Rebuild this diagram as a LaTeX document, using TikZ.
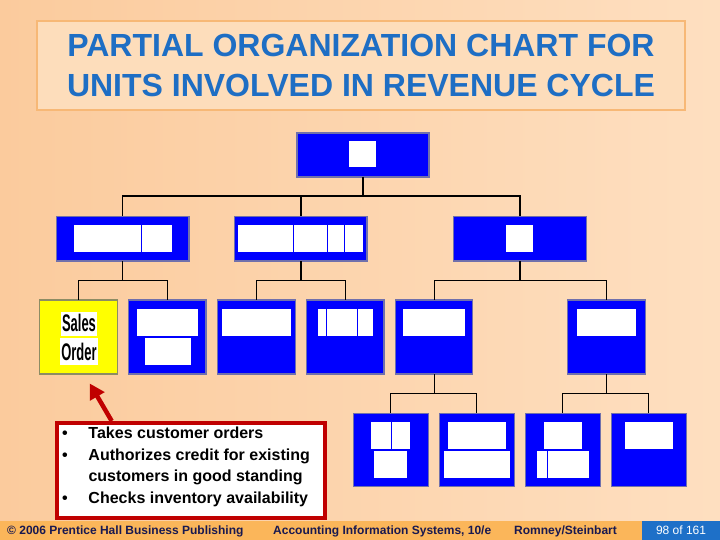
\documentclass[tikz,border=0pt]{standalone}
\usepackage{fontspec}
\setmainfont{Liberation Sans}
\usepackage{xcolor}
\usetikzlibrary{arrows.meta}

\definecolor{bgL}{RGB}{251,203,157}
\definecolor{bgR}{RGB}{254,223,192}
\definecolor{ttlfill}{RGB}{253,221,187}
\definecolor{ttledge}{RGB}{247,184,118}
\definecolor{ttlblue}{RGB}{30,110,196}
\definecolor{unitblue}{RGB}{0,0,255}
\definecolor{unitedge}{RGB}{112,112,172}
\definecolor{selyellow}{RGB}{255,255,0}
\definecolor{seledge}{RGB}{140,140,100}
\definecolor{notered}{RGB}{192,0,0}
\definecolor{barorange}{RGB}{251,182,90}
\definecolor{barblue}{RGB}{30,112,200}
\definecolor{bartext}{RGB}{25,25,80}

\begin{document}
\begin{tikzpicture}[x=1pt,y=-1pt,%
% common options for the blue units:
unit/.style = {draw=unitedge, fill=unitblue, line width=1.2pt, anchor=north west,
            inner sep=0, outer sep=0},
% common options for the white patches:
patch/.style = {fill=white, anchor=north west, inner sep=0, outer sep=0},
% words on the yellow unit:
word/.style = {fill=white, anchor=base, inner xsep=1.8pt, inner ysep=0, xscale=0.54,
            font=\fontsize{24}{24}\selectfont\bfseries},
% connectors:
wire/.style = {line width=1.3pt, black},
% footer texts:
foot/.style = {anchor=base west, inner sep=0, text=bartext,
            font=\fontsize{12}{14}\selectfont\bfseries}]
\useasboundingbox (0,0) rectangle (720,540);
\shade[left color=bgL, right color=bgR] (0,0) rectangle (720,540);
% title
\node[draw=ttledge, fill=ttlfill, line width=2.5pt, minimum width=648pt, minimum height=89pt,
      align=center, text=ttlblue, font=\fontsize{32}{40}\selectfont\bfseries] (title) at (361,65.5)
      {PARTIAL ORGANIZATION CHART FOR\\UNITS INVOLVED IN REVENUE CYCLE};
% top level
\node[unit, minimum width=132pt, minimum height=44pt] (T0) at (297,133) {};
\node[patch, minimum width=27pt, minimum height=26pt] (T0a) at (349,141) {};
% second level
\node[unit, minimum width=132.5pt, minimum height=44.5pt] (U1) at (56.5,216.5) {};
\node[unit, minimum width=132.3pt, minimum height=44.5pt] (U2) at (234.7,216.5) {};
\node[unit, minimum width=133.3pt, minimum height=44.5pt] (U3) at (453.3,216.5) {};
\node[patch, minimum width=67.2pt, minimum height=26.7pt] (U1a) at (74,225) {};
\node[patch, minimum width=29.8pt, minimum height=26.7pt] (U1b) at (142.2,225) {};
\node[patch, minimum width=54.7pt, minimum height=26.7pt] (U2a) at (238,225) {};
\node[patch, minimum width=33pt, minimum height=26.7pt] (U2b) at (293.7,225) {};
\node[patch, minimum width=16.6pt, minimum height=26.7pt] (U2c) at (327.7,225) {};
\node[patch, minimum width=17.5pt, minimum height=26.7pt] (U2d) at (345.2,225) {};
\node[patch, minimum width=27pt, minimum height=26.7pt] (U3a) at (506,225) {};
% third level
\node[unit, draw=seledge, fill=selyellow, minimum width=78pt, minimum height=74pt] (S1) at (39.3,300) {};
\node[unit, minimum width=77.3pt, minimum height=74pt] (S2) at (128.7,300) {};
\node[unit, minimum width=77.6pt, minimum height=74pt] (S3) at (217.7,300) {};
\node[unit, minimum width=77.3pt, minimum height=74pt] (S4) at (306.7,300) {};
\node[unit, minimum width=77pt, minimum height=74pt] (S5) at (395.7,300) {};
\node[unit, minimum width=77.6pt, minimum height=74pt] (S6) at (567.7,300) {};
\node[word, text height=19.3pt, text depth=4.7pt] (sales) at (79,331) {Sales};
\node[word, text height=21.7pt, text depth=5pt] (order) at (79,360) {Order};
\node[patch, minimum width=61.3pt, minimum height=27pt] (S2a) at (136.7,308.7) {};
\node[patch, minimum width=46pt, minimum height=27pt] (S2b) at (145,338) {};
\node[patch, minimum width=69pt, minimum height=27pt] (S3a) at (222,308.7) {};
\node[patch, minimum width=8.5pt, minimum height=27pt] (S4a) at (317.7,308.7) {};
\node[patch, minimum width=30pt, minimum height=27pt] (S4b) at (327.2,308.7) {};
\node[patch, minimum width=14.8pt, minimum height=27pt] (S4c) at (358.2,308.7) {};
\node[patch, minimum width=62.3pt, minimum height=27pt] (S5a) at (402.7,308.7) {};
\node[patch, minimum width=59pt, minimum height=27pt] (S6a) at (577,308.7) {};
% fourth level
\node[unit, minimum width=75pt, minimum height=73.4pt] (A) at (353.3,413.3) {};
\node[unit, minimum width=75pt, minimum height=73.4pt] (B) at (439.3,413.3) {};
\node[unit, minimum width=75pt, minimum height=73.4pt] (C) at (525.3,413.3) {};
\node[unit, minimum width=75pt, minimum height=73.4pt] (D) at (611.3,413.3) {};
\node[patch, minimum width=19.8pt, minimum height=27.3pt] (Aa) at (371,421.7) {};
\node[patch, minimum width=18.2pt, minimum height=27.3pt] (Ab) at (391.8,421.7) {};
\node[patch, minimum width=32.7pt, minimum height=26.7pt] (Ac) at (374,451) {};
\node[patch, minimum width=58pt, minimum height=27.3pt] (Ba) at (448,421.7) {};
\node[patch, minimum width=66pt, minimum height=26.7pt] (Bb) at (444,451) {};
\node[patch, minimum width=38pt, minimum height=27.3pt] (Ca) at (544,421.7) {};
\node[patch, minimum width=10pt, minimum height=26.7pt] (Cb) at (537,451) {};
\node[patch, minimum width=41pt, minimum height=26.7pt] (Cc) at (548,451) {};
\node[patch, minimum width=48pt, minimum height=27.3pt] (Da) at (625,421.7) {};
\draw[wire] (T0.south) -- ++(0,19) -| (U1.north);
\draw[wire] (T0.south) -- ++(0,19) -| (U2.north);
\draw[wire] (T0.south) -- ++(0,19) -| (U3.north);
\draw[wire] (U1.south) -- ++(0,19.5) -| (S1.north);
\draw[wire] (U1.south) -- ++(0,19.5) -| (S2.north);
\draw[wire] (U2.south) -- ++(0,19.5) -| (S3.north);
\draw[wire] (U2.south) -- ++(0,19.5) -| (S4.north);
\draw[wire] (U3.south) -- ++(0,19.5) -| (S5.north);
\draw[wire] (U3.south) -- ++(0,19.5) -| (S6.north);
\draw[wire] (S5.south) -- ++(0,19.7) -| (A.north);
\draw[wire] (S5.south) -- ++(0,19.7) -| (B.north);
\draw[wire] (S6.south) -- ++(0,19.7) -| (C.north);
\draw[wire] (S6.south) -- ++(0,19.7) -| (D.north);
% callout
\node[draw=notered, fill=white, line width=4pt, anchor=north west, inner sep=0,
      minimum width=268.6pt, minimum height=94.7pt] (note) at (54.7,421) {};
\node[anchor=base west, inner sep=0, font=\fontsize{16}{21.7}\selectfont\bfseries] (notetxt) at (62,438.3)
      {\begin{tabular}[t]{@{}p{26.3pt}@{}l@{}}
       \textbullet & Takes customer orders\\
       \textbullet & Authorizes credit for existing\\
                   & customers in good standing\\
       \textbullet & Checks inventory availability
       \end{tabular}};
\draw[notered, line width=4.5pt, -{Triangle[length=15pt,width=16pt]}]
      ([xshift=57pt]note.north west) -- ([xshift=11.5pt,yshift=-9.5pt]S1.south);
% footer
\node[fill=barorange, anchor=north west, inner sep=0, minimum width=720pt, minimum height=19pt] (bar) at (0,521) {};
\node[fill=barblue, anchor=north west, inner sep=0, minimum width=78.3pt, minimum height=19pt,
      text=white, font=\fontsize{12}{14}\selectfont] (page) at (641.7,521) {98 of 161};
\node[foot] (pub) at (7,534.5) {\textcopyright{} 2006 Prentice Hall Business Publishing};
\node[foot] (book) at (273,534.5) {Accounting Information Systems, 10/e};
\node[foot] (auth) at (514,534.5) {Romney/Steinbart};
\end{tikzpicture}
\end{document}
